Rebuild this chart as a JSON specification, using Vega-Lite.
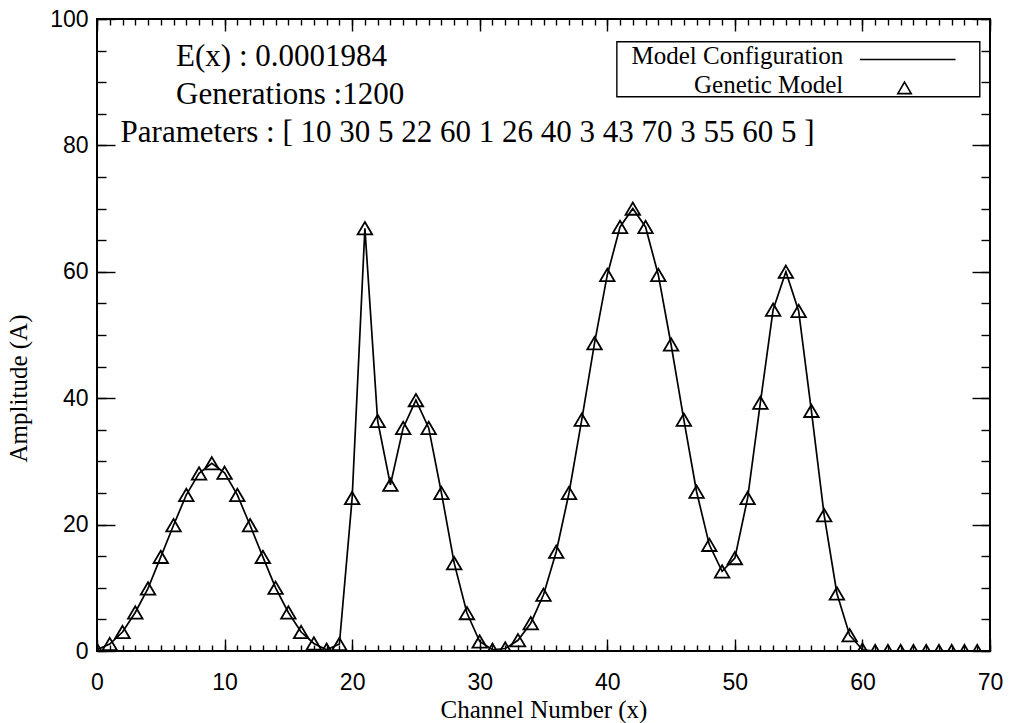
{
  "$schema": "https://vega.github.io/schema/vega-lite/v6.json",
  "width": 893,
  "height": 632,
  "autosize": {"type": "none"},
  "padding": {"left": 97, "top": 19, "right": 24, "bottom": 72},
  "background": "white",
  "config": {
    "view": {"stroke": "black", "strokeWidth": 2},
    "axis": {"tickColor": "black", "tickWidth": 1.4, "domain": false, "grid": false, "labelColor": "black", "titleColor": "black"}
  },
  "datasets": {
    "spectrum": [
      {"channel": 0, "amplitude": 0.2}, {"channel": 1, "amplitude": 1.1}, {"channel": 2, "amplitude": 3.0},
      {"channel": 3, "amplitude": 6.1}, {"channel": 4, "amplitude": 9.9}, {"channel": 5, "amplitude": 14.9},
      {"channel": 6, "amplitude": 19.9}, {"channel": 7, "amplitude": 24.7}, {"channel": 8, "amplitude": 28.1},
      {"channel": 9, "amplitude": 29.7}, {"channel": 10, "amplitude": 28.2}, {"channel": 11, "amplitude": 24.7},
      {"channel": 12, "amplitude": 19.9}, {"channel": 13, "amplitude": 14.9}, {"channel": 14, "amplitude": 10.0},
      {"channel": 15, "amplitude": 6.1}, {"channel": 16, "amplitude": 3.0}, {"channel": 17, "amplitude": 1.2},
      {"channel": 18, "amplitude": 0.2}, {"channel": 19, "amplitude": 1.1}, {"channel": 20, "amplitude": 24.2},
      {"channel": 21, "amplitude": 66.9}, {"channel": 22, "amplitude": 36.4}, {"channel": 23, "amplitude": 26.3},
      {"channel": 24, "amplitude": 35.3}, {"channel": 25, "amplitude": 39.7}, {"channel": 26, "amplitude": 35.3},
      {"channel": 27, "amplitude": 25.0}, {"channel": 28, "amplitude": 13.9}, {"channel": 29, "amplitude": 6.0},
      {"channel": 30, "amplitude": 1.5}, {"channel": 31, "amplitude": 0.2}, {"channel": 32, "amplitude": 0.4},
      {"channel": 33, "amplitude": 1.7}, {"channel": 34, "amplitude": 4.4}, {"channel": 35, "amplitude": 8.9},
      {"channel": 36, "amplitude": 15.7}, {"channel": 37, "amplitude": 25.0}, {"channel": 38, "amplitude": 36.6},
      {"channel": 39, "amplitude": 48.7}, {"channel": 40, "amplitude": 59.5}, {"channel": 41, "amplitude": 67.1},
      {"channel": 42, "amplitude": 70.0}, {"channel": 43, "amplitude": 67.1}, {"channel": 44, "amplitude": 59.5},
      {"channel": 45, "amplitude": 48.5}, {"channel": 46, "amplitude": 36.6}, {"channel": 47, "amplitude": 25.2},
      {"channel": 48, "amplitude": 16.8}, {"channel": 49, "amplitude": 12.6}, {"channel": 50, "amplitude": 14.7},
      {"channel": 51, "amplitude": 24.2}, {"channel": 52, "amplitude": 39.3}, {"channel": 53, "amplitude": 54.0},
      {"channel": 54, "amplitude": 60.0}, {"channel": 55, "amplitude": 53.8}, {"channel": 56, "amplitude": 38.0},
      {"channel": 57, "amplitude": 21.5}, {"channel": 58, "amplitude": 9.1}, {"channel": 59, "amplitude": 2.5},
      {"channel": 60, "amplitude": 0.2}, {"channel": 61, "amplitude": 0}, {"channel": 62, "amplitude": 0},
      {"channel": 63, "amplitude": 0}, {"channel": 64, "amplitude": 0}, {"channel": 65, "amplitude": 0},
      {"channel": 66, "amplitude": 0}, {"channel": 67, "amplitude": 0}, {"channel": 68, "amplitude": 0},
      {"channel": 69, "amplitude": 0}
    ],
    "notes": [
      {"label": "E(x) : 0.0001984", "px": 6.2, "py": 92.5},
      {"label": "Generations :1200", "px": 6.2, "py": 86.6},
      {"label": "Parameters : [ 10 30 5 22 60 1 26 40 3 43 70 3 55 60 5 ]", "px": 1.85, "py": 80.6}
    ],
    "legendBox": [{"x1": 40.75, "x2": 69.2, "y1": 87.7, "y2": 96.4}],
    "legendText": [
      {"label": "Model Configuration", "px": 58.5, "py": 92.85},
      {"label": "Genetic Model", "px": 58.5, "py": 88.35}
    ],
    "legendLine": [{"x1": 59.8, "x2": 67.3, "y": 93.6}],
    "legendSymbol": [{"px": 63.3, "py": 89.1}]
  },
  "resolve": {"axis": {"x": "independent", "y": "independent"}},
  "layer": [
    {
      "data": {"name": "spectrum"},
      "mark": {"type": "line", "color": "black", "strokeWidth": 1.7, "clip": true},
      "encoding": {
        "x": {"field": "channel", "type": "quantitative", "scale": {"domain": [0, 70], "nice": false, "zero": false},
          "axis": {"orient": "bottom", "values": [0, 10, 20, 30, 40, 50, 60, 70], "ticks": false,
            "labelFont": "Liberation Sans", "labelFontSize": 23, "labelPadding": 20, "labelFlush": false, "labelOverlap": false,
            "title": "Channel Number (x)", "titleFont": "Liberation Serif", "titleFontSize": 25, "titleFontWeight": "normal",
            "titleBaseline": "alphabetic", "titleY": 66}},
        "y": {"field": "amplitude", "type": "quantitative", "scale": {"domain": [0, 100], "nice": false, "zero": false},
          "axis": {"orient": "left", "values": [0, 20, 40, 60, 80, 100], "ticks": false,
            "labelFont": "Liberation Sans", "labelFontSize": 23, "labelPadding": 9, "labelFlush": false, "labelOverlap": false,
            "title": "Amplitude (A)", "titleFont": "Liberation Serif", "titleFontSize": 25, "titleFontWeight": "normal",
            "titleBaseline": "alphabetic", "titleX": -71, "titleY": 369}}
      }
    },
    {
      "data": {"name": "spectrum"},
      "mark": {"type": "point", "shape": "M0,-0.85L1,0.85L-1,0.85Z", "size": 210, "filled": false, "stroke": "black", "strokeWidth": 1.8, "opacity": 1, "clip": true},
      "encoding": {
        "x": {"field": "channel", "type": "quantitative", "scale": {"domain": [0, 70], "nice": false, "zero": false},
          "axis": {"orient": "bottom", "values": [0, 10, 20, 30, 40, 50, 60, 70], "labels": false, "tickSize": -12, "title": null}},
        "y": {"field": "amplitude", "type": "quantitative", "scale": {"domain": [0, 100], "nice": false, "zero": false},
          "axis": {"orient": "left", "values": [0, 20, 40, 60, 80, 100], "labels": false, "tickSize": -18, "title": null}}
      }
    },
    {
      "data": {"name": "notes"},
      "mark": {"type": "text", "align": "left", "baseline": "alphabetic", "font": "Liberation Serif", "fontSize": 31, "color": "black"},
      "encoding": {
        "text": {"field": "label"},
        "x": {"field": "px", "type": "quantitative", "scale": {"domain": [0, 70], "nice": false, "zero": false},
          "axis": {"orient": "bottom", "values": [0,1,2,3,4,5,6,7,8,9,10,11,12,13,14,15,16,17,18,19,20,21,22,23,24,25,26,27,28,29,30,31,32,33,34,35,36,37,38,39,40,41,42,43,44,45,46,47,48,49,50,51,52,53,54,55,56,57,58,59,60,61,62,63,64,65,66,67,68,69,70], "labels": false, "tickSize": -6, "title": null}},
        "y": {"field": "py", "type": "quantitative", "scale": {"domain": [0, 100], "nice": false, "zero": false},
          "axis": {"orient": "left", "values": [0,5,10,15,20,25,30,35,40,45,50,55,60,65,70,75,80,85,90,95,100], "labels": false, "tickSize": -9, "title": null}}
      }
    },
    {
      "data": {"name": "legendBox"},
      "mark": {"type": "rect", "fill": "white", "stroke": "black", "strokeWidth": 1.4},
      "encoding": {
        "x": {"field": "x1", "type": "quantitative", "scale": {"domain": [0, 70], "nice": false, "zero": false},
          "axis": {"orient": "top", "values": [0, 10, 20, 30, 40, 50, 60, 70], "labels": false, "tickSize": -12, "title": null}},
        "x2": {"field": "x2"},
        "y": {"field": "y1", "type": "quantitative", "scale": {"domain": [0, 100], "nice": false, "zero": false},
          "axis": {"orient": "right", "values": [0, 20, 40, 60, 80, 100], "labels": false, "tickSize": -18, "title": null}},
        "y2": {"field": "y2"}
      }
    },
    {
      "data": {"name": "legendText"},
      "mark": {"type": "text", "align": "right", "baseline": "alphabetic", "font": "Liberation Serif", "fontSize": 25, "color": "black"},
      "encoding": {
        "text": {"field": "label"},
        "x": {"field": "px", "type": "quantitative", "scale": {"domain": [0, 70], "nice": false, "zero": false},
          "axis": {"orient": "top", "values": [0,1,2,3,4,5,6,7,8,9,10,11,12,13,14,15,16,17,18,19,20,21,22,23,24,25,26,27,28,29,30,31,32,33,34,35,36,37,38,39,40,41,42,43,44,45,46,47,48,49,50,51,52,53,54,55,56,57,58,59,60,61,62,63,64,65,66,67,68,69,70], "labels": false, "tickSize": -6, "title": null}},
        "y": {"field": "py", "type": "quantitative", "scale": {"domain": [0, 100], "nice": false, "zero": false},
          "axis": {"orient": "right", "values": [0,5,10,15,20,25,30,35,40,45,50,55,60,65,70,75,80,85,90,95,100], "labels": false, "tickSize": -9, "title": null}}
      }
    },
    {
      "data": {"name": "legendLine"},
      "mark": {"type": "rule", "color": "black", "strokeWidth": 1.5},
      "encoding": {
        "x": {"field": "x1", "type": "quantitative", "scale": {"domain": [0, 70], "nice": false, "zero": false}, "axis": null},
        "x2": {"field": "x2"},
        "y": {"field": "y", "type": "quantitative", "scale": {"domain": [0, 100], "nice": false, "zero": false}, "axis": null}
      }
    },
    {
      "data": {"name": "legendSymbol"},
      "mark": {"type": "point", "shape": "M0,-0.85L1,0.85L-1,0.85Z", "size": 180, "filled": false, "stroke": "black", "strokeWidth": 1.6, "opacity": 1},
      "encoding": {
        "x": {"field": "px", "type": "quantitative", "scale": {"domain": [0, 70], "nice": false, "zero": false}, "axis": null},
        "y": {"field": "py", "type": "quantitative", "scale": {"domain": [0, 100], "nice": false, "zero": false}, "axis": null}
      }
    }
  ]
}
